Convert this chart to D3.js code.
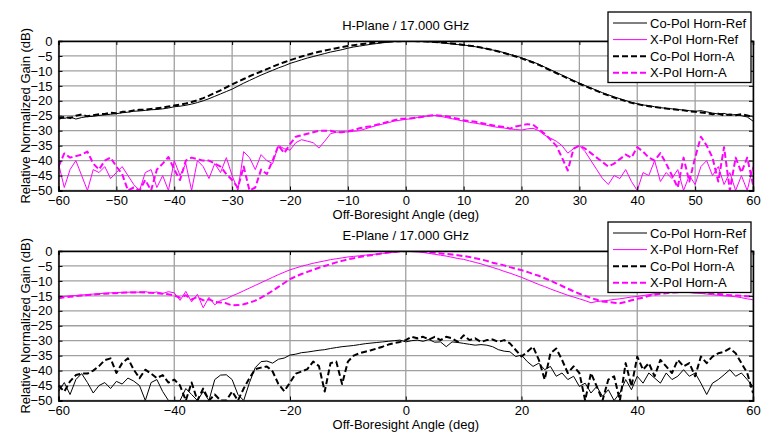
<!DOCTYPE html>
<html>
<head>
<meta charset="utf-8">
<script src="https://cdn.jsdelivr.net/npm/d3@7"></script>
<style>
  body { margin: 0; background: #fff; }
  text { font-family: "Liberation Sans", Arial, sans-serif; }
</style>
</head>
<body>
<script>
// angles -60..60 step 1 deg
var angles = d3.range(-60, 61, 1)

// H-plane
var hCoRef = [
  -25.6, -25.9, -25.4, -26.1, -25.6, -25.3, -25.2, -24.9, -24.7, -24.5,
  -24.3, -24.0, -23.8, -23.5, -23.4, -23.2, -23.0, -22.9, -22.7, -22.4,
  -22.0, -21.8, -21.5, -21.1, -20.6, -20.0, -19.3, -18.5, -17.7, -16.9,
  -16.1, -15.1, -14.1, -13.2, -12.3, -11.4, -10.6, -9.8, -9.0, -8.3,
  -7.5, -6.9, -6.3, -5.7, -5.2, -4.7, -4.2, -3.7, -3.3, -2.9,
  -2.4, -2.0, -1.7, -1.4, -1.1, -0.85, -0.6, -0.4, -0.2, -0.1,
  0, -0.05, -0.1, -0.2, -0.3, -0.4, -0.6, -0.8, -1.0, -1.2,
  -1.35, -1.6, -1.9, -2.2, -2.6, -3.0, -3.4, -3.9, -4.5, -5.0,
  -5.6, -6.3, -7.0, -7.8, -8.7, -9.6, -10.5, -11.4, -12.3, -13.2,
  -14.1, -14.9, -15.7, -16.5, -17.3, -18.0, -18.7, -19.3, -19.9, -20.5,
  -21.0, -21.4, -21.6, -22.0, -22.3, -22.5, -22.7, -22.9, -23.1, -23.3,
  -23.5, -23.3, -23.7, -24.1, -24.4, -24.2, -24.8, -24.6, -25.0, -25.4, -26.8
]
var hXRef = [
  -41, -49, -43, -40, -45, -50, -43, -44, -42, -46,
  -44, -42, -45, -48, -50, -44, -43, -49, -45, -50,
  -40, -45, -41, -50, -40, -42, -46, -41, -44, -39,
  -45, -50, -37, -39, -43, -38, -40, -41, -35, -36,
  -36.5, -34, -33, -33.5, -34, -35.8, -33.5, -31, -30.5, -30.4,
  -30.4, -30.2, -30, -29.4, -28.8, -28.2, -27.8, -27.3, -26.8, -26.5,
  -26.2, -26, -25.6, -25.3, -25, -24.9, -25.2, -25.6, -26, -26.4,
  -26.8, -27.2, -27.5, -27.8, -28.2, -28.6, -28.9, -29.1, -29.4, -29.6,
  -29.8, -29.4, -29.2, -30, -31.5, -32.5, -33.5, -35, -37.5, -36,
  -35, -37, -40, -43, -46, -48, -45, -46, -43, -47,
  -50, -44, -45, -40, -47, -44, -46, -43, -50, -45,
  -48, -42, -40, -45, -42, -48, -44, -50, -45, -50, -42
]
var hCoA = [
  -26.0, -25.4, -25.8, -25.0, -24.6, -25.2, -24.8, -24.5, -24.4, -24.0,
  -24.2, -23.7, -23.6, -23.2, -23.0, -23.0, -22.7, -22.5, -22.3, -21.9,
  -21.6, -21.3, -20.9, -20.4, -19.8, -19.1, -18.3, -17.4, -16.5, -15.5,
  -14.5, -13.6, -12.7, -11.8, -11.0, -10.2, -9.4, -8.6, -7.8, -7.1,
  -6.4, -5.8, -5.2, -4.6, -4.1, -3.6, -3.2, -2.8, -2.4, -2.0,
  -1.7, -1.4, -1.1, -0.9, -0.7, -0.5, -0.35, -0.2, -0.1, -0.05,
  0, 0, -0.05, -0.1, -0.2, -0.3, -0.45, -0.6, -0.8, -1.0,
  -1.3, -1.55, -1.85, -2.2, -2.6, -3.0, -3.5, -4.0, -4.6, -5.2,
  -5.8, -6.5, -7.2, -8.0, -8.9, -9.8, -10.7, -11.6, -12.5, -13.4,
  -14.3, -15.1, -15.9, -16.7, -17.5, -18.2, -18.9, -19.5, -20.1, -20.7,
  -21.1, -21.5, -21.8, -22.1, -22.3, -22.6, -22.8, -23.0, -23.2, -23.5,
  -23.7, -23.9, -24.1, -24.5, -24.3, -24.9, -24.6, -24.8, -24.5, -24.9, -25.5
]
var hXA = [
  -42, -37.6, -39, -38.5, -38, -37, -41, -43, -40, -39,
  -42, -44.5, -50, -49, -50, -46.5, -50, -43, -41, -38.8,
  -43, -46.5, -40, -39, -39.5, -40, -40, -41, -42, -44.5,
  -46.5, -49, -42, -50, -49, -43, -44.5, -40, -35, -37.5,
  -34.5, -32, -31.5, -31, -30.5, -30, -30, -30, -30.5, -30.5,
  -30.2, -29.8, -29.2, -28.8, -28.5, -28, -27.5, -27, -26.5, -26,
  -26, -25.8, -25.6, -25.3, -25, -24.8, -25, -25.2, -25.6, -26,
  -26.5, -26.8, -27, -27.4, -27.8, -28.2, -28.5, -28.8, -29.3, -28.6,
  -28.2, -27.8, -28, -29.5, -31, -33, -35, -39, -43.3, -36,
  -35, -36, -37.5, -39, -40.5, -42, -41, -39.5, -38, -39,
  -35.5, -37, -39, -40, -37.5, -41, -45, -49, -39, -47,
  -39, -32, -35, -39, -47, -35.5, -50, -39, -44, -39, -48
]

// E-plane
var eCoRef = [
  -47, -44, -48, -43, -41, -44, -47.5, -45, -44, -46,
  -43.6, -44.5, -42.5, -43.5, -45, -50, -44, -43, -47, -50,
  -50, -50, -46, -48, -50, -47, -50, -43, -41.5, -41.4,
  -43, -48, -50, -44, -39, -37, -36.8, -37.5, -36.2, -35.8,
  -34.8, -34.5, -34, -33.8, -33.5, -33.2, -33, -32.6, -32.3, -32,
  -31.8, -31.6, -31.3, -31, -30.8, -30.6, -30.4, -30.2, -30, -29.8,
  -30.4, -30, -29.8, -30.2, -29.6, -30.5, -30.4, -32, -30.4, -30.6,
  -30.9, -31.2, -31.5, -31.3, -31.5, -32, -33, -33.5, -33.7, -35.3,
  -34.8, -37, -38.6, -37.5, -39.7, -38.6, -41.9, -40.8, -43, -41.9,
  -45.3, -44.2, -47.5, -45.3, -48.6, -46.4, -50, -47.5, -43, -46.4,
  -41.9, -44.2, -40.8, -42.5, -44.2, -40.8, -43, -41.9, -39.7, -41.9,
  -40.8, -44.2, -48, -44.2, -43, -41.4, -39.7, -41.9, -40.8, -43, -45.3
]
var eXRef = [
  -15.3, -15.2, -15.0, -14.9, -14.7, -14.6, -14.4, -14.3, -14.1, -14.0,
  -13.9, -13.8, -13.8, -13.7, -13.8, -13.6, -14.0, -13.7, -14.2, -13.6,
  -14.0, -16.5, -13.5, -17.0, -14.5, -19.0, -15.5, -18.0, -16.5, -16.0,
  -15.0, -14.2, -13.3, -12.4, -11.5, -10.6, -9.7, -8.8, -7.9, -7.1,
  -6.3, -5.7, -5.1, -4.6, -4.1, -3.7, -3.3, -2.9, -2.6, -2.3,
  -2.0, -1.8, -1.6, -1.4, -1.2, -1.0, -0.8, -0.6, -0.4, -0.2,
  0, -0.1, -0.3, -0.5, -0.8, -1.1, -1.4, -1.7, -2.1, -2.5,
  -2.8, -3.3, -3.8, -4.3, -4.9, -5.5, -6.1, -6.8, -7.4, -8.1,
  -8.8, -9.6, -10.4, -11.2, -11.9, -12.7, -13.4, -14.1, -14.8, -15.4,
  -16.0, -16.6, -17.3, -16.9, -16.7, -16.5, -16.2, -16.0, -15.7, -15.4,
  -15.2, -14.9, -14.6, -14.3, -14.0, -13.8, -13.7, -13.6, -13.7, -13.9,
  -14.1, -14.2, -14.4, -14.6, -14.8, -15.0, -15.1, -15.3, -15.6, -16.0, -16.3
]
var eCoA = [
  -45, -47, -43.6, -41.5, -41, -41, -40, -38.5, -36.5, -35.9,
  -40.8, -37.5, -35.9, -39.7, -42.5, -39.7, -41, -42.5, -41.5, -44,
  -43, -45, -50, -44, -50, -46, -50, -48, -50, -50,
  -47, -50, -46, -42.5, -39.5, -39, -38.6, -40.3, -44.5, -46.9,
  -44, -41, -40.3, -39.5, -37, -38.5, -47, -37.5, -37, -44.5,
  -37, -35, -34.2, -33.7, -33.2, -32.6, -32, -31.3, -30.8, -30.4,
  -29.8, -28.7, -29.2, -28.7, -29.6, -28.7, -29.8, -28.7, -29.2, -30.4,
  -28.2, -29.8, -29.2, -30.4, -29.8, -29.6, -30.4, -29.8, -30.9, -33.1,
  -35.3, -33.7, -32, -36.4, -43, -34.2, -32.6, -36.4, -40.8, -38.6,
  -40.8, -50, -40.8, -45.3, -50, -43, -41.9, -50, -37.5, -45.3,
  -35.3, -39.7, -37.5, -41.9, -36.4, -38.6, -40.8, -36.4, -38.6, -37.5,
  -41.9, -35.3, -37.5, -35.3, -34.2, -33.7, -32.6, -34.2, -37.5, -40.8, -47.5
]
var eXA = [
  -15.8, -15.5, -15.3, -15.1, -14.9, -14.7, -14.6, -14.4, -14.3, -14.2,
  -14.1, -14.0, -13.9, -13.9, -13.8, -13.9, -14.0, -14.1, -14.3, -14.5,
  -14.9, -15.6, -14.8, -16.2, -15.4, -16.5, -16.2, -17.0, -17.2, -17.5,
  -18.2, -18.1, -17.8, -17.3, -16.6, -15.6, -14.5, -13.3, -12.0, -10.7,
  -9.4, -8.5, -7.7, -7.0, -6.3, -5.6, -5.0, -4.4, -3.8, -3.3,
  -2.8, -2.4, -2.0, -1.7, -1.4, -1.1, -0.8, -0.5, -0.3, -0.1,
  0, -0.05, -0.1, -0.2, -0.4, -0.6, -0.8, -1.0, -1.2, -1.4,
  -1.7, -2.0, -2.4, -2.8, -3.3, -3.9, -4.3, -4.8, -5.4, -5.9,
  -6.4, -7.0, -7.7, -8.3, -9.1, -9.9, -10.8, -11.7, -12.6, -13.5,
  -14.3, -15.0, -15.7, -16.3, -16.9, -17.1, -17.3, -17.5, -17.0, -16.5,
  -16.0, -15.6, -15.0, -14.6, -14.3, -14.1, -13.9, -13.8, -13.7, -13.7,
  -13.8, -13.9, -14.0, -14.2, -14.4, -14.6, -14.8, -14.9, -15.0, -15.1, -15.2
]

var seriesNames = ['Co-Pol Horn-Ref', 'X-Pol Horn-Ref', 'Co-Pol Horn-A', 'X-Pol Horn-A']
var yTicks = [0, -5, -10, -15, -20, -25, -30, -35, -40, -45, -50]

var W = 776, H = 442
var svg = d3.select('body').append('svg')
  .attr('width', W)
  .attr('height', H)

// series styles follow legend order
var styles = [
  {color: '#000', width: 1, dash: null},
  {color: '#ff00ff', width: 1, dash: null},
  {color: '#000', width: 2, dash: '6,3'},
  {color: '#ff00ff', width: 2, dash: '6,3'}
]

function panel(id, top, title, xStep, data) {
  var left = 58.5, right = 753, bottom = top + 149.5
  var x = d3.scaleLinear().domain([-60, 60]).range([left, right])
  var y = d3.scaleLinear().domain([-50, 0]).range([bottom, top])
  var xTicks = d3.range(-60, 61, xStep)
  var g = svg.append('g')

  svg.append('clipPath').attr('id', id)
    .append('rect')
    .attr('x', left).attr('y', top)
    .attr('width', right - left).attr('height', bottom - top)

  // grid
  g.append('g').selectAll('line').data(yTicks).enter().append('line')
    .attr('x1', left).attr('x2', right)
    .attr('y1', function(d){ return y(d) }).attr('y2', function(d){ return y(d) })
    .attr('stroke', '#a0a0a0').attr('stroke-width', 1.3)
  g.append('g').selectAll('line').data(xTicks).enter().append('line')
    .attr('y1', top).attr('y2', bottom)
    .attr('x1', function(d){ return x(d) }).attr('x2', function(d){ return x(d) })
    .attr('stroke', '#a0a0a0').attr('stroke-width', 1.3)

  // curves
  var line = d3.line()
    .x(function(d){ return x(d[0]) })
    .y(function(d){ return y(d[1]) })
  var lines = g.append('g').attr('clip-path', 'url(#' + id + ')')
  data.forEach(function(vals, i) {
    var s = styles[i]
    lines.append('path')
      .datum(angles.map(function(a, k){ return [a, vals[k]] }))
      .attr('d', line)
      .attr('fill', 'none')
      .attr('stroke', s.color)
      .attr('stroke-width', s.width)
      .attr('stroke-dasharray', s.dash)
      .attr('stroke-linejoin', 'round')
  })

  // axes (inward ticks, box on all four sides)
  var xAxis = d3.axisBottom(x).tickValues(xTicks).tickSize(-4).tickPadding(5)
  var xTop = d3.axisTop(x).tickValues(xTicks).tickSize(-4).tickFormat('')
  var yAxis = d3.axisLeft(y).tickValues(yTicks).tickSize(-4).tickPadding(6)
  var yRight = d3.axisRight(y).tickValues(yTicks).tickSize(-4).tickFormat('')
  var ax = [
    g.append('g').attr('transform', 'translate(0,' + bottom + ')').call(xAxis),
    g.append('g').attr('transform', 'translate(0,' + top + ')').call(xTop),
    g.append('g').attr('transform', 'translate(' + left + ',0)').call(yAxis),
    g.append('g').attr('transform', 'translate(' + right + ',0)').call(yRight)
  ]
  ax.forEach(function(a) {
    a.select('.domain').attr('stroke', '#000').attr('stroke-width', 1.5)
    a.selectAll('.tick line').attr('stroke', '#000')
    a.selectAll('text').attr('font-size', 13).attr('fill', '#000')
      .style('font-family', '"Liberation Sans", Arial, sans-serif')
  })

  // title and labels
  svg.append('text')
    .attr('x', (left + right) / 2).attr('y', top - 11)
    .attr('text-anchor', 'middle').attr('font-size', 13)
    .text(title)
  svg.append('text')
    .attr('x', (left + right) / 2).attr('y', bottom + 28)
    .attr('text-anchor', 'middle').attr('font-size', 13)
    .text('Off-Boresight Angle (deg)')
  svg.append('text')
    .attr('transform', 'translate(30,' + ((top + bottom) / 2) + ') rotate(-90)')
    .attr('text-anchor', 'middle').attr('font-size', 13)
    .text('Relative Normalized Gain (dB)')

  // legend
  var lx = 608, ly = top - 29
  var lg = svg.append('g')
  lg.append('rect')
    .attr('x', lx).attr('y', ly).attr('width', 143).attr('height', 70.5)
    .attr('fill', '#fff').attr('stroke', '#000').attr('stroke-width', 1.3)
  seriesNames.forEach(function(name, i) {
    var s = styles[i]
    var cy = ly + 11 + i * 16.6
    lg.append('line')
      .attr('x1', lx + 5).attr('x2', lx + 39)
      .attr('y1', cy).attr('y2', cy)
      .attr('stroke', s.color).attr('stroke-width', s.width)
      .attr('stroke-dasharray', s.dash)
    lg.append('text')
      .attr('x', lx + 42).attr('y', cy + 4.5)
      .attr('font-size', 13)
      .text(name)
  })
}

panel('clipH', 41, 'H-Plane / 17.000 GHz', 10, [hCoRef, hXRef, hCoA, hXA])
panel('clipE', 251, 'E-Plane / 17.000 GHz', 20, [eCoRef, eXRef, eCoA, eXA])
</script>
</body>
</html>
